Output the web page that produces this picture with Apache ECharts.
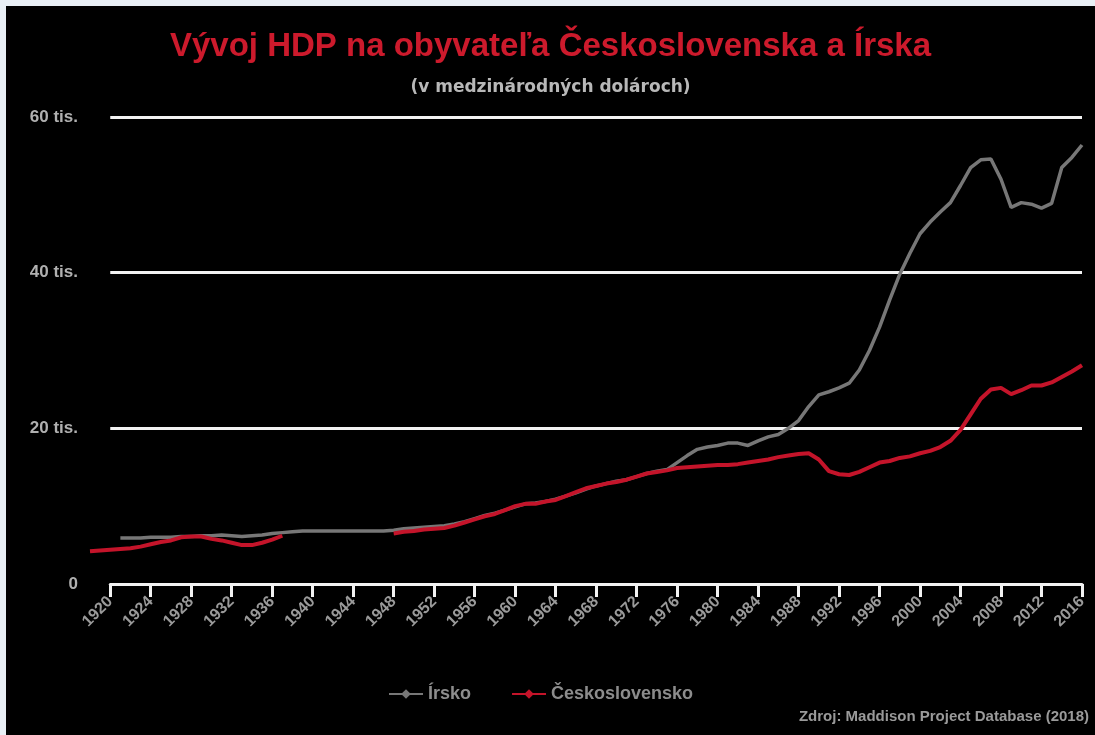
<!DOCTYPE html>
<html>
<head>
<meta charset="utf-8">
<script src="https://cdn.jsdelivr.net/npm/echarts@6/dist/echarts.min.js"></script>
<style>
  html, body { margin: 0; padding: 0; background: #e9eff5; width: 1095px; height: 735px; overflow: hidden; }
  #chart { position: absolute; left: 6px; top: 6px; width: 1089px; height: 729px; background: #000; }
</style>
</head>
<body>
<div id="chart"></div>
<script>
// ---- data ----
const years = [];
for (let y = 1918; y <= 2016; y++) years.push(String(y));

// first labelled year and label step on the x axis (1920, 1924, ..., 2016)
const firstLabelYear = '1920';
const labelStep = 4;

// Írsko (Ireland), GDP per capita, intl. dollars
const irsko = [
  null, null, null, 5900, 5900, 5900, 6000, 6000, 6000, 6100,   // 1918-1927
  6100, 6200, 6200, 6300, 6200, 6100, 6200, 6300, 6500, 6600,   // 1928-1937
  6700, 6800, 6800, 6800, 6800, 6800, 6800, 6800, 6800, 6800,   // 1938-1947
  6900, 7100, 7200, 7300, 7400, 7500, 7700, 8000, 8400, 8800,   // 1948-1957
  9100, 9500, 9900, 10300, 10400, 10600, 10900, 11300, 11700, 12200, // 1958-1967
  12600, 12900, 13200, 13400, 13800, 14200, 14500, 14700, 15600, 16500, // 1968-1977
  17300, 17600, 17800, 18100, 18100, 17800, 18400, 18900, 19200, 20000, // 1978-1987
  21000, 22800, 24300, 24700, 25200, 25800, 27500, 30000, 33000, 36500, // 1988-1997
  39800, 42500, 45000, 46500, 47800, 49000, 51200, 53500, 54500, 54600, // 1998-2007
  52000, 48400, 49000, 48800, 48300, 48900, 53500, 54800, 56400         // 2008-2016
];

// Československo (Czechoslovakia)
const ceskoslovensko = [
  4200, 4300, 4400, 4500, 4600, 4800, 5100, 5400, 5600, 6000,   // 1918-1927
  6100, 6100, 5800, 5600, 5300, 5000, 5000, 5300, 5700, 6200,   // 1928-1937
  null, null, null, null, null, null, null, null, null, null,   // 1938-1947
  6500, 6700, 6800, 7000, 7100, 7200, 7500, 7900, 8300, 8700,   // 1948-1957
  9000, 9500, 10000, 10300, 10300, 10600, 10800, 11300, 11800, 12300, // 1958-1967
  12600, 12900, 13100, 13400, 13800, 14200, 14400, 14600, 14900, 15000, // 1968-1977
  15100, 15200, 15300, 15300, 15400, 15600, 15800, 16000, 16300, 16500, // 1978-1987
  16700, 16800, 16000, 14500, 14100, 14000, 14400, 15000, 15600, 15800, // 1988-1997
  16200, 16400, 16800, 17100, 17600, 18400, 19800, 21800, 23800, 25000, // 1998-2007
  25200, 24400, 24900, 25500, 25500, 25900, 26600, 27300, 28100         // 2008-2016
];

const yTickLabels = ['0', '20 tis.', '40 tis.', '60 tis.'];
const seriesNames = ['Írsko', 'Československo'];
const titleText = 'Vývoj HDP na obyvateľa Československa a Írska';
const subtitleText = '(v medzinárodných dolároch)';
const sourceText = 'Zdroj: Maddison Project Database (2018)';

// ---- chart ----
const chart = echarts.init(document.getElementById('chart'));

// data grid spans 1918..2016; the axis grid starts at the first labelled year
const gridLeft = 84, gridRight = 13, gridTop = 111, gridBottom = 151;
const plotW = 1089 - gridLeft - gridRight;
const step = plotW / (years.length - 1);
const offset = years.indexOf(firstLabelYear);
const axisYears = years.slice(offset);

chart.setOption({
  backgroundColor: '#000',
  animation: false,
  title: [
    { text: titleText, left: 'center', top: 24, padding: 0,
      textStyle: { color: '#cc1a2c', fontSize: 33, fontWeight: 'bold', fontFamily: 'Liberation Sans' } },
    { text: subtitleText, left: 'center', top: 73, padding: 0,
      textStyle: { color: '#b8b8b8', fontSize: 17, fontWeight: 'bold', fontFamily: 'DejaVu Sans' } }
  ],
  legend: {
    data: seriesNames,
    left: 377,
    top: 674,
    itemWidth: 34,
    itemHeight: 12,
    itemGap: 40,
    textStyle: { color: '#8c8c8c', fontSize: 18, fontWeight: 'bold', fontFamily: 'Liberation Sans' }
  },
  grid: [
    { left: gridLeft, right: gridRight, top: gridTop, bottom: gridBottom },
    { left: gridLeft + offset * step, right: gridRight, top: gridTop, bottom: gridBottom }
  ],
  xAxis: [
    { gridIndex: 0, type: 'category', data: years, boundaryGap: false,
      axisLine: { show: false }, axisTick: { show: false }, axisLabel: { show: false }, splitLine: { show: false } },
    { gridIndex: 1, type: 'category', data: axisYears, boundaryGap: false,
      axisLine: { show: true, onZero: false, lineStyle: { color: '#f2f2f2', width: 3 } },
      axisTick: { show: true, interval: labelStep - 1, length: 13, lineStyle: { color: '#f2f2f2', width: 3 } },
      axisLabel: { show: true, interval: labelStep - 1, rotate: 45, color: '#9a9a9a', fontSize: 16, fontWeight: 'bold',
        fontFamily: 'Liberation Sans', margin: 15 },
      splitLine: { show: false } }
  ],
  yAxis: [
    { gridIndex: 0, type: 'value', min: 0, max: 60000, interval: 20000,
      axisLine: { show: false }, axisTick: { show: false }, axisLabel: { show: false }, splitLine: { show: false } },
    { gridIndex: 1, type: 'value', min: 0, max: 60000, interval: 20000,
      axisLine: { show: false },
      axisTick: { show: false },
      axisLabel: { color: '#b0b0b0', fontSize: 17, fontWeight: 'bold', fontFamily: 'Liberation Sans',
        margin: 12 + offset * step, formatter: v => yTickLabels[Math.round(v / 20000)] },
      splitLine: { show: true, lineStyle: { color: '#f2f2f2', width: 3 } } }
  ],
  series: [
    { name: seriesNames[0], type: 'line', xAxisIndex: 0, yAxisIndex: 0, data: irsko,
      symbol: 'diamond', symbolSize: 9, showSymbol: false, connectNulls: false,
      lineStyle: { color: '#777777', width: 3.5 }, itemStyle: { color: '#777777' }, z: 2 },
    { name: seriesNames[1], type: 'line', xAxisIndex: 0, yAxisIndex: 0, data: ceskoslovensko,
      symbol: 'diamond', symbolSize: 9, showSymbol: false, connectNulls: false,
      lineStyle: { color: '#c4142a', width: 4 }, itemStyle: { color: '#c4142a' }, z: 3 }
  ],
  graphic: [
    { type: 'text', right: 6, top: 703,
      style: { text: sourceText, fill: '#9a9a9a', fontSize: 15, fontWeight: 'bold', fontFamily: 'Liberation Sans' } }
  ]
});
</script>
</body>
</html>
